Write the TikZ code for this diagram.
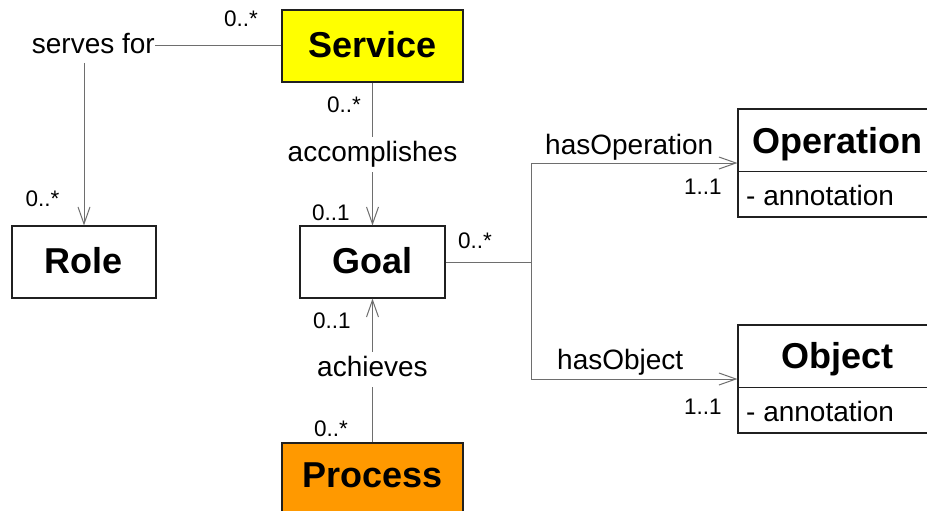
\documentclass[tikz,border=0pt]{standalone}
\usepackage{fontspec}
\setmainfont{Liberation Sans}
\usetikzlibrary{arrows.meta}
\definecolor{svcyellow}{HTML}{FFFF00}
\definecolor{procorange}{HTML}{FF9900}
\definecolor{linegray}{HTML}{6E6E6E}
\definecolor{boxline}{HTML}{202020}
\begin{document}
\begin{tikzpicture}[x=1pt,y=-1pt,
  classbox/.style={draw=boxline,line width=1.1pt,inner sep=0pt,
    font=\fontsize{36}{40}\selectfont\bfseries,text height=27pt,text depth=4pt},
  titletext/.style={inner sep=0pt,anchor=base,font=\fontsize{36}{40}\selectfont\bfseries},
  attrtext/.style={inner sep=0pt,anchor=base west,font=\fontsize{28}{32}\selectfont},
  mult/.style={inner sep=0pt,anchor=base west,font=\fontsize{22.5}{26}\selectfont},
  assoc/.style={inner sep=0pt,font=\fontsize{28}{32}\selectfont},
  midlabel/.style={assoc,text height=20pt,text depth=6pt,inner ysep=4.5pt},
  conn/.style={draw=linegray,line width=1pt},
  arr/.style={conn,-{Straight Barb[length=17pt,width=12pt,line width=1pt]}}
]
\clip (0,0) rectangle (927,511);
\fill[white] (0,0) rectangle (927,511);

% class boxes
\node[classbox,fill=svcyellow,minimum width=181pt,minimum height=72pt] (svc) at (372.5,46) {Service};
\node[classbox,minimum width=144pt,minimum height=72pt] (role) at (84,262) {Role};
\node[classbox,minimum width=145pt,minimum height=72pt] (goal) at (372.5,262) {Goal};
\node[classbox,fill=procorange,minimum width=181pt,minimum height=90pt,text height=25pt,text depth=27pt] (proc) at (372.5,488) {Process};

\node[classbox,minimum width=199pt,minimum height=108pt] (op) at (837.5,163) {};
\draw[draw=boxline,line width=1.1pt] ([yshift=-63pt]op.north west) -- ([yshift=-63pt]op.north east);
\node[titletext] (optitle) at (837.5,153) {Operation};
\node[attrtext] (opattr) at (746,205) {- annotation};

\node[classbox,minimum width=199pt,minimum height=108pt] (obj) at (837.5,379) {};
\draw[draw=boxline,line width=1.1pt] ([yshift=-63pt]obj.north west) -- ([yshift=-63pt]obj.north east);
\node[titletext] (objtitle) at (837.5,368) {Object};
\node[attrtext] (objattr) at (746,421) {- annotation};

% serves for
\node[assoc,anchor=base east] (sf) at (155,54) {serves for};
\coordinate (sfdown) at (84,63);
\draw[conn] (svc.west) -- (sf.east |- svc.west);
\draw[arr] (sfdown) -- (role.north);
\node[mult] (m1) at (224,27) {0..*};
\node[mult] (m2) at (25.5,206) {0..*};

% accomplishes
\node[midlabel] (acc) at (372.5,154.5) {accomplishes};
\draw[conn] (svc.south) -- (acc.north);
\draw[arr] (acc.south) -- (goal.north);
\node[mult] (m3) at (327,112) {0..*};
\node[mult] (m4) at (312,220) {0..1};

% achieves
\node[midlabel] (ach) at (372.5,369.5) {achieves};
\draw[conn] (proc.north) -- (ach.south);
\draw[arr] (ach.north) -- (goal.south);
\node[mult] (m5) at (313,328) {0..1};
\node[mult] (m6) at (314,436) {0..*};

% hasOperation / hasObject
\coordinate (br) at (531,262);
\draw[conn] (goal.east) -- (br);
\draw[arr] (br) |- (op.west);
\draw[arr] (br) |- (obj.west);
\node[assoc,anchor=base west] (hop) at (545,154) {hasOperation};
\node[assoc,anchor=base west] (hob) at (557,369) {hasObject};
\node[mult] (m7) at (458,248) {0..*};
\node[mult] (m8) at (684,194) {1..1};
\node[mult] (m9) at (684,414) {1..1};
\end{tikzpicture}
\end{document}
